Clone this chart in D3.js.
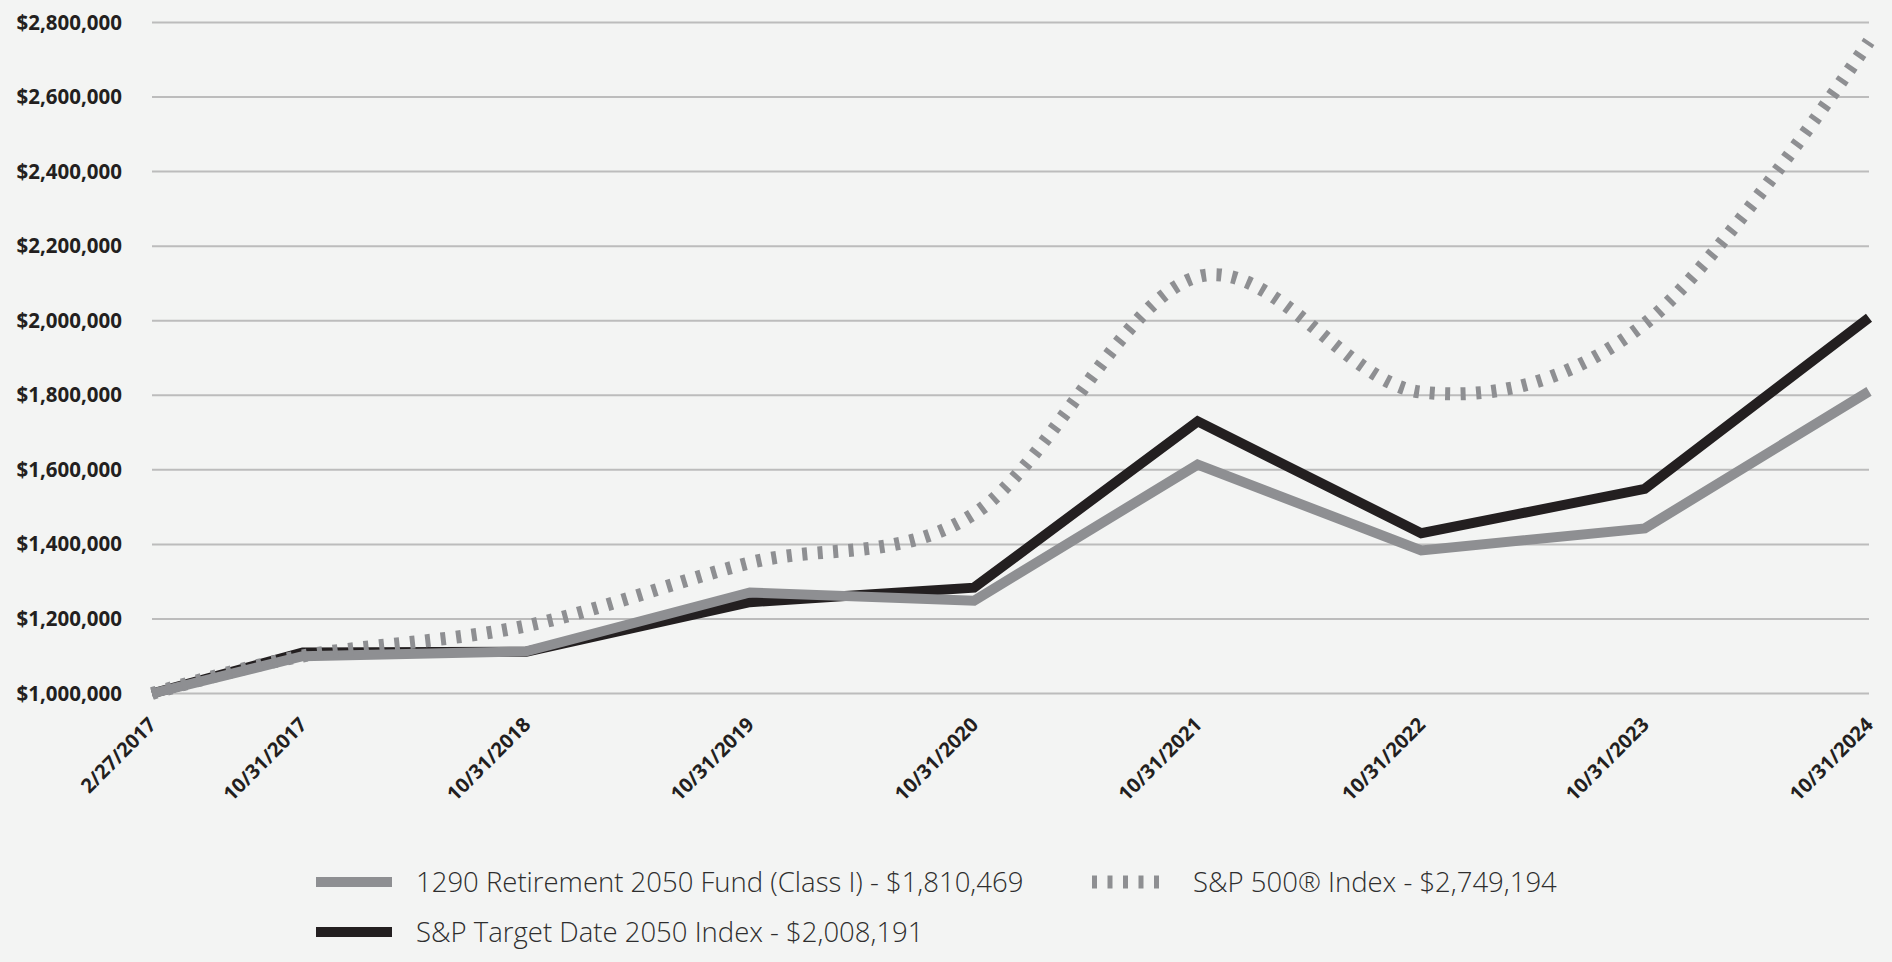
<!DOCTYPE html>
<html><head><meta charset="utf-8">
<script src="https://cdn.jsdelivr.net/npm/d3@7"></script>
<style>
html,body{margin:0;padding:0;background:#f3f4f3;}
svg{display:block;}
</style></head>
<body>
<svg id="chart" width="1892" height="962"></svg>
<script>
const dates = ["2017-02-27","2017-10-31","2018-10-31","2019-10-31","2020-10-31","2021-10-31","2022-10-31","2023-10-31","2024-10-31"];
const dateLabels = ["2/27/2017","10/31/2017","10/31/2018","10/31/2019","10/31/2020","10/31/2021","10/31/2022","10/31/2023","10/31/2024"];
const fundValues = [1000000,1100000,1113000,1271000,1249000,1614000,1384000,1443000,1810469];
const targetValues = [1000000,1110000,1112000,1245000,1284000,1730000,1430000,1549000,2008191];
const sp500Values = [1000000,1100600,1181500,1350800,1482000,2117900,1808500,1991900,2749194];
const yTicks = [1000000,1200000,1400000,1600000,1800000,2000000,2200000,2400000,2600000,2800000];
const legendLabels = ["1290 Retirement 2050 Fund (Class I) - $1,810,469","S&P 500® Index - $2,749,194","S&P Target Date 2050 Index - $2,008,191"];

const svg = d3.select("#chart");
const W = 1892, H = 962;
svg.append("rect").attr("width",W).attr("height",H).attr("fill","#f3f4f3");

const parse = d3.timeParse("%Y-%m-%d");
const xDates = dates.map(parse);
const x = d3.scaleTime().domain([xDates[0], xDates[xDates.length-1]]).range([152, 1869]);
const y = d3.scaleLinear().domain([1000000, 2800000]).range([693.5, 22.5]);

// gridlines
const grid = svg.append("g");
grid.selectAll("line").data(yTicks).join("line")
  .attr("x1",152).attr("x2",1869)
  .attr("y1",d=>y(d)).attr("y2",d=>y(d))
  .attr("stroke","#bcbcbc").attr("stroke-width",2);

// y axis labels
const fmt = d3.format("$,");
const yAxis = d3.axisLeft(y).tickValues(yTicks).tickFormat(d=>fmt(d)).tickSize(0).tickPadding(0);
const yg = svg.append("g").attr("transform","translate(122,0)").call(yAxis);
yg.select(".domain").remove();
yg.selectAll("text").attr("font-family","'Open Sans', sans-serif").attr("font-weight",700)
  .attr("font-size",20.5).attr("fill","#231f20");

// x axis labels
const xAxis = d3.axisBottom(x).tickValues(xDates).tickFormat((d,i)=>dateLabels[i]).tickSize(0).tickPadding(0);
const xg = svg.append("g").attr("transform","translate(0,721)").call(xAxis);
xg.select(".domain").remove();
xg.selectAll(".tick text")
  .attr("font-family","'Open Sans', sans-serif").attr("font-weight",700)
  .attr("font-size",20).attr("fill","#231f20")
  .attr("text-anchor","end").attr("dy","0.35em")
  .attr("transform","rotate(-45)").attr("x",0).attr("y",0);

const mk = vals => vals.map((v,i)=>({d:xDates[i], v}));
const lineStraight = d3.line().x(p=>x(p.d)).y(p=>y(p.v));
const lineSmooth = d3.line().x(p=>x(p.d)).y(p=>y(p.v)).curve(d3.curveCardinal.tension(0));

svg.append("path").datum(mk(targetValues)).attr("d",lineStraight)
  .attr("fill","none").attr("stroke","#231f20").attr("stroke-width",10).attr("stroke-linejoin","miter");
svg.append("path").datum(mk(fundValues)).attr("d",lineStraight)
  .attr("fill","none").attr("stroke","#8e8f92").attr("stroke-width",10).attr("stroke-linejoin","miter");
svg.append("path").datum(mk(sp500Values)).attr("d",lineSmooth)
  .attr("fill","none").attr("stroke","#8e8f92").attr("stroke-width",13).attr("stroke-dasharray","5 10.5");

// legend
const lg = svg.append("g");
const items = [
  {label:legendLabels[0], x:316, y:882, type:"fund"},
  {label:legendLabels[1], x:1092, y:882, type:"sp"},
  {label:legendLabels[2], x:316, y:932, type:"target"}
];
items.forEach(it=>{
  const g = lg.append("g");
  if(it.type==="sp"){
    g.append("line").attr("x1",it.x).attr("x2",it.x+70).attr("y1",it.y).attr("y2",it.y)
      .attr("stroke","#8e8f92").attr("stroke-width",13).attr("stroke-dasharray","5 10.5");
  } else {
    g.append("line").attr("x1",it.x).attr("x2",it.x+76).attr("y1",it.y).attr("y2",it.y)
      .attr("stroke", it.type==="fund"?"#8e8f92":"#231f20").attr("stroke-width",10);
  }
  g.append("text").attr("x", it.type==="sp"?1193:416).attr("y",it.y).attr("dy","0.35em")
    .attr("font-family","'Open Sans', sans-serif").attr("font-weight",300).attr("font-size",27.5).attr("fill","#2e2e2e")
    .text(it.label);
});
</script>
</body></html>
